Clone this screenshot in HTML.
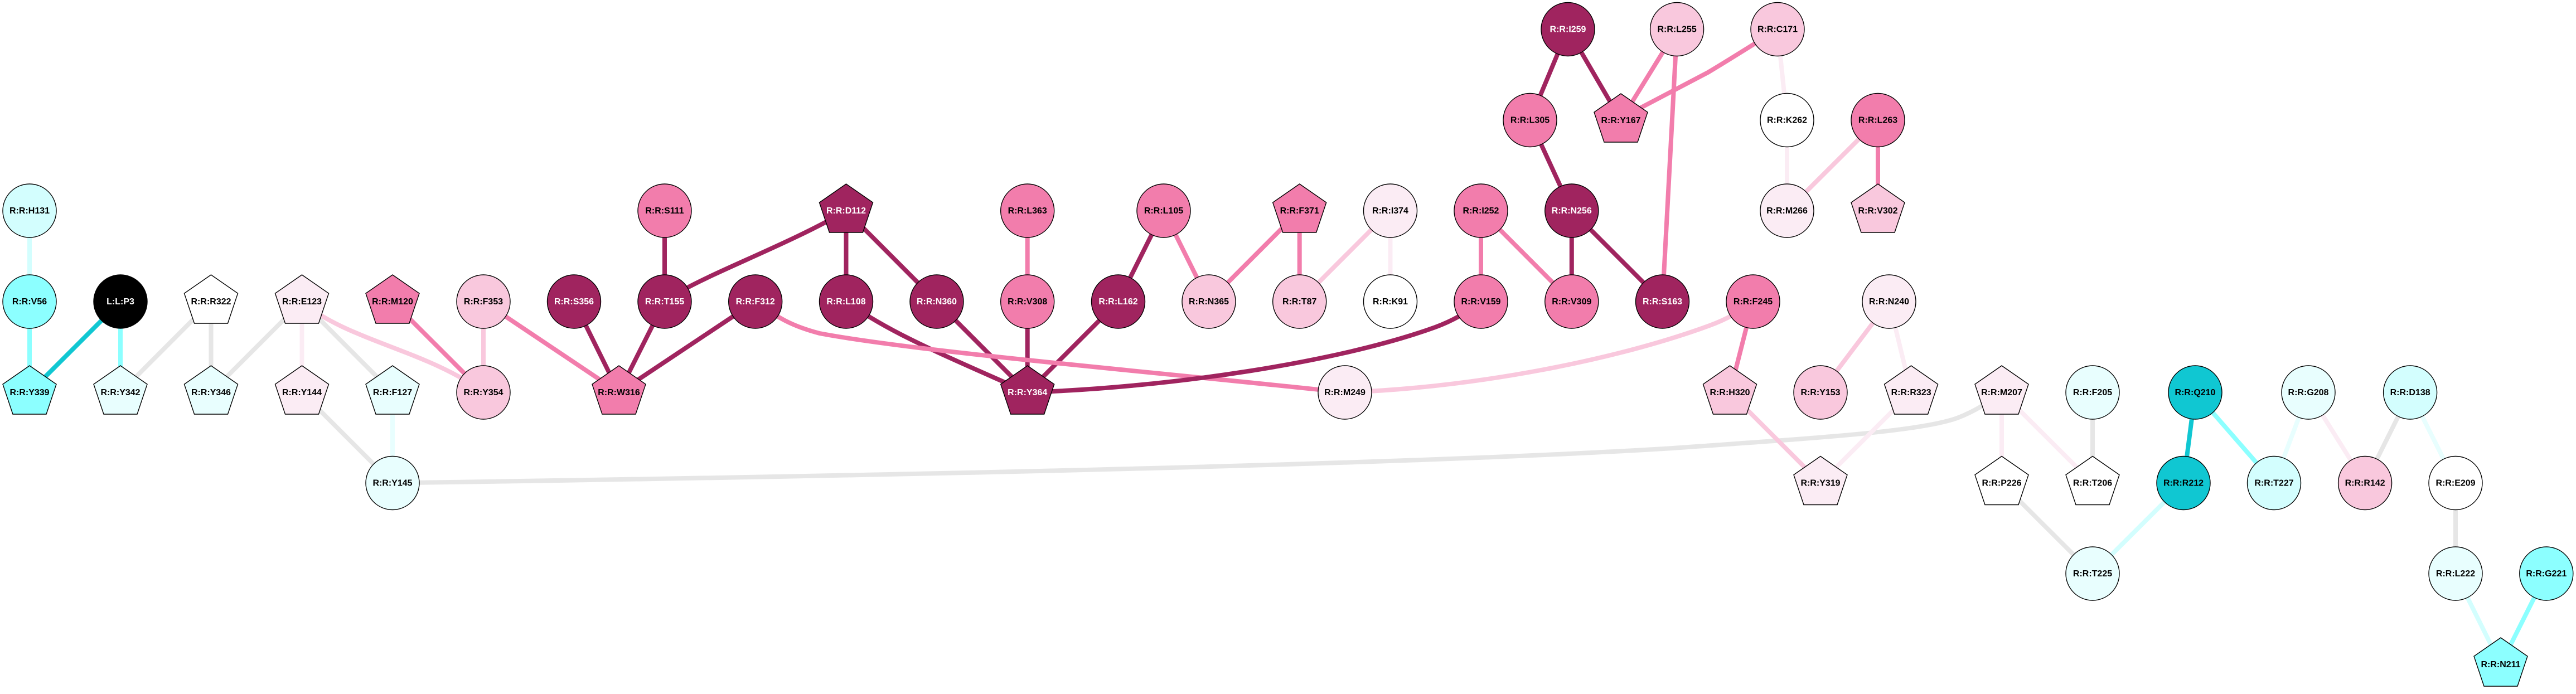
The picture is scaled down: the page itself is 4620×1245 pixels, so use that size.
<!DOCTYPE html>
<html>
<head>
<meta charset="utf-8">
<title>Residue network</title>
<style>
html,body{margin:0;padding:0;background:#fff}
svg{display:block}
.e path,.e line{fill:none;stroke-width:8}
.dk{stroke:#A0245F}.pk{stroke:#F27DAC}.lp{stroke:#F9C8DD}.vp{stroke:#FBECF4}
.gr{stroke:#E6E6E6}.c1{stroke:#E8FEFE}.c2{stroke:#D3FEFE}.c3{stroke:#8CFFFF}.c4{stroke:#10C7D2}
.n circle,.n polygon{stroke:#000;stroke-width:1.4}
.n text{font:bold 16px "Liberation Sans",sans-serif;text-anchor:middle;fill:#000}
.n .D circle,.n .D polygon{fill:#A0245F}.n .D text{fill:#fff}
.n .K circle,.n .K polygon{fill:#000}.n .K text{fill:#fff}
.n .P circle,.n .P polygon{fill:#F27DAC}
.n .L circle,.n .L polygon{fill:#F9C8DD}
.n .V circle,.n .V polygon{fill:#FBECF4}
.n .W circle,.n .W polygon{fill:#fff}
.n .G circle,.n .G polygon{fill:#E8FEFE}
.n .H circle,.n .H polygon{fill:#D3FEFE}
.n .I circle,.n .I polygon{fill:#8CFFFF}
.n .T circle,.n .T polygon{fill:#10C7D2}
</style>
</head>
<body>
<svg xmlns="http://www.w3.org/2000/svg" width="4620" height="1245" viewBox="0 0 4620 1245">
<rect width="4620" height="1245" fill="#fff"/>
<g class="e">
<line class="c2" x1="53" y1="378" x2="53" y2="541"/>
<line class="c3" x1="53" y1="541" x2="53" y2="704"/>
<line class="c4" x1="216" y1="541" x2="53" y2="704"/>
<line class="c3" x1="216" y1="541" x2="216" y2="704"/>
<line class="gr" x1="378.5" y1="541" x2="216" y2="704"/>
<line class="gr" x1="378.5" y1="541" x2="378.5" y2="704"/>
<line class="gr" x1="541.5" y1="541" x2="378.5" y2="704"/>
<line class="vp" x1="541.5" y1="541" x2="541.5" y2="704"/>
<line class="gr" x1="541.5" y1="541" x2="704" y2="704"/>
<line class="gr" x1="541.5" y1="704" x2="704" y2="866.5"/>
<line class="c1" x1="704" y1="704" x2="704" y2="866.5"/>
<path class="lp" d="M541.5,541 C620,610 770,630 867,704"/>
<line class="pk" x1="704" y1="541" x2="867" y2="704"/>
<line class="lp" x1="867" y1="541" x2="867" y2="704"/>
<line class="pk" x1="867" y1="541" x2="1110" y2="704"/>
<path class="gr" d="M704,866.5 C1500,855 2500,835 3000,804 C3250,786 3440,775 3510,750 Q3550,735 3590,704"/>
<line class="dk" x1="1029.5" y1="541" x2="1110" y2="704"/>
<line class="dk" x1="1192" y1="541" x2="1110" y2="704"/>
<line class="dk" x1="1354.7" y1="541" x2="1110" y2="704"/>
<line class="dk" x1="1192" y1="378" x2="1192" y2="541"/>
<path class="dk" d="M1517.5,378 C1430,430 1300,480 1233,516 L1192,541"/>
<line class="dk" x1="1517.5" y1="378" x2="1517.5" y2="541"/>
<line class="dk" x1="1517.5" y1="378" x2="1680" y2="541"/>
<path class="dk" d="M1517.5,541 C1600,600 1700,640 1842.7,704"/>
<line class="dk" x1="1680" y1="541" x2="1842.7" y2="704"/>
<line class="pk" x1="1842.7" y1="378" x2="1842.7" y2="541"/>
<line class="dk" x1="1842.7" y1="541" x2="1842.7" y2="704"/>
<line class="dk" x1="2005.5" y1="541" x2="1842.7" y2="704"/>
<line class="dk" x1="2087" y1="378" x2="2005.5" y2="541"/>
<line class="pk" x1="2087" y1="378" x2="2168" y2="541"/>
<line class="pk" x1="2330.7" y1="378" x2="2168" y2="541"/>
<line class="pk" x1="2330.7" y1="378" x2="2330.7" y2="541"/>
<line class="lp" x1="2493.5" y1="378" x2="2330.7" y2="541"/>
<line class="vp" x1="2493.5" y1="378" x2="2493.5" y2="541"/>
<line class="pk" x1="2656" y1="378" x2="2656" y2="541"/>
<line class="pk" x1="2656" y1="378" x2="2818.8" y2="541"/>
<line class="dk" x1="2818.8" y1="378" x2="2818.8" y2="541"/>
<line class="dk" x1="2818.8" y1="378" x2="2981.5" y2="541"/>
<line class="dk" x1="2744" y1="215.5" x2="2818.8" y2="378"/>
<line class="dk" x1="2812" y1="52.5" x2="2744" y2="215.5"/>
<line class="dk" x1="2812" y1="52.5" x2="2907" y2="215.5"/>
<line class="pk" x1="3007.6" y1="52.5" x2="2907" y2="215.5"/>
<line class="pk" x1="3007.6" y1="52.5" x2="2981.5" y2="541"/>
<path class="pk" d="M3188,52.5 Q3100,108 3063,130 L2907,212"/>
<line class="vp" x1="3188" y1="52.5" x2="3205" y2="215.5"/>
<line class="vp" x1="3205" y1="215.5" x2="3205" y2="378"/>
<line class="lp" x1="3368" y1="215.5" x2="3205" y2="378"/>
<line class="pk" x1="3368" y1="215.5" x2="3368" y2="378"/>
<path class="pk" d="M1354.7,541 C1395,570 1420,585 1470,598 C1650,632 2100,670 2412,704"/>
<path class="dk" d="M1842.7,704 C2100,695 2400,650 2574,587 Q2620,570 2656,541"/>
<path class="lp" d="M2412,704 C2650,695 2900,645 3066,584 Q3110,568 3144,541"/>
<line class="pk" x1="3144" y1="541" x2="3102.5" y2="704"/>
<line class="lp" x1="3102.5" y1="704" x2="3265" y2="866.5"/>
<line class="lp" x1="3388" y1="541" x2="3265" y2="704"/>
<line class="vp" x1="3388" y1="541" x2="3427.6" y2="704"/>
<line class="vp" x1="3427.6" y1="704" x2="3265" y2="866.5"/>
<line class="vp" x1="3590" y1="704" x2="3590" y2="866.5"/>
<line class="vp" x1="3590" y1="704" x2="3753" y2="866.5"/>
<line class="gr" x1="3753" y1="704" x2="3753" y2="866.5"/>
<line class="gr" x1="3590" y1="866.5" x2="3753" y2="1029"/>
<line class="c2" x1="3916" y1="866.5" x2="3753" y2="1029"/>
<line class="c4" x1="3937" y1="704" x2="3916" y2="866.5"/>
<line class="c3" x1="3937" y1="704" x2="4078.5" y2="866.5"/>
<line class="c1" x1="4140" y1="704" x2="4078.5" y2="866.5"/>
<line class="vp" x1="4140" y1="704" x2="4241.6" y2="866.5"/>
<line class="gr" x1="4322.6" y1="704" x2="4241.6" y2="866.5"/>
<line class="c1" x1="4322.6" y1="704" x2="4404" y2="866.5"/>
<line class="gr" x1="4404" y1="866.5" x2="4404" y2="1029"/>
<line class="c2" x1="4404" y1="1029" x2="4485" y2="1192"/>
<line class="c3" x1="4566.8" y1="1029" x2="4485" y2="1192"/>
</g>
<g class="n">
<g class="H" transform="translate(53,378)"><circle r="48"/><text y="4.8">R:R:H131</text></g>
<g class="I" transform="translate(53,541)"><circle r="48"/><text y="4.8">R:R:V56</text></g>
<g class="I" transform="translate(53,704)"><polygon points="0,-48 48,-14.7 30,39 -30,39 -48,-14.7"/><text y="4.8">R:R:Y339</text></g>
<g class="K" transform="translate(216,541)"><circle r="48"/><text y="4.8">L:L:P3</text></g>
<g class="G" transform="translate(216,704)"><polygon points="0,-48 48,-14.7 30,39 -30,39 -48,-14.7"/><text y="4.8">R:R:Y342</text></g>
<g class="W" transform="translate(378.5,541)"><polygon points="0,-48 48,-14.7 30,39 -30,39 -48,-14.7"/><text y="4.8">R:R:R322</text></g>
<g class="G" transform="translate(378.5,704)"><polygon points="0,-48 48,-14.7 30,39 -30,39 -48,-14.7"/><text y="4.8">R:R:Y346</text></g>
<g class="V" transform="translate(541.5,541)"><polygon points="0,-48 48,-14.7 30,39 -30,39 -48,-14.7"/><text y="4.8">R:R:E123</text></g>
<g class="V" transform="translate(541.5,704)"><polygon points="0,-48 48,-14.7 30,39 -30,39 -48,-14.7"/><text y="4.8">R:R:Y144</text></g>
<g class="P" transform="translate(704,541)"><polygon points="0,-48 48,-14.7 30,39 -30,39 -48,-14.7"/><text y="4.8">R:R:M120</text></g>
<g class="G" transform="translate(704,704)"><polygon points="0,-48 48,-14.7 30,39 -30,39 -48,-14.7"/><text y="4.8">R:R:F127</text></g>
<g class="G" transform="translate(704,866.5)"><circle r="48"/><text y="4.8">R:R:Y145</text></g>
<g class="L" transform="translate(867,541)"><circle r="48"/><text y="4.8">R:R:F353</text></g>
<g class="L" transform="translate(867,704)"><circle r="48"/><text y="4.8">R:R:Y354</text></g>
<g class="D" transform="translate(1029.5,541)"><circle r="48"/><text y="4.8">R:R:S356</text></g>
<g class="P" transform="translate(1110,704)"><polygon points="0,-48 48,-14.7 30,39 -30,39 -48,-14.7"/><text y="4.8">R:R:W316</text></g>
<g class="P" transform="translate(1192,378)"><circle r="48"/><text y="4.8">R:R:S111</text></g>
<g class="D" transform="translate(1192,541)"><circle r="48"/><text y="4.8">R:R:T155</text></g>
<g class="D" transform="translate(1354.7,541)"><circle r="48"/><text y="4.8">R:R:F312</text></g>
<g class="D" transform="translate(1517.5,378)"><polygon points="0,-48 48,-14.7 30,39 -30,39 -48,-14.7"/><text y="4.8">R:R:D112</text></g>
<g class="D" transform="translate(1517.5,541)"><circle r="48"/><text y="4.8">R:R:L108</text></g>
<g class="D" transform="translate(1680,541)"><circle r="48"/><text y="4.8">R:R:N360</text></g>
<g class="P" transform="translate(1842.7,378)"><circle r="48"/><text y="4.8">R:R:L363</text></g>
<g class="P" transform="translate(1842.7,541)"><circle r="48"/><text y="4.8">R:R:V308</text></g>
<g class="D" transform="translate(1842.7,704)"><polygon points="0,-48 48,-14.7 30,39 -30,39 -48,-14.7"/><text y="4.8">R:R:Y364</text></g>
<g class="D" transform="translate(2005.5,541)"><circle r="48"/><text y="4.8">R:R:L162</text></g>
<g class="P" transform="translate(2087,378)"><circle r="48"/><text y="4.8">R:R:L105</text></g>
<g class="L" transform="translate(2168,541)"><circle r="48"/><text y="4.8">R:R:N365</text></g>
<g class="P" transform="translate(2330.7,378)"><polygon points="0,-48 48,-14.7 30,39 -30,39 -48,-14.7"/><text y="4.8">R:R:F371</text></g>
<g class="L" transform="translate(2330.7,541)"><circle r="48"/><text y="4.8">R:R:T87</text></g>
<g class="V" transform="translate(2412,704)"><circle r="48"/><text y="4.8">R:R:M249</text></g>
<g class="V" transform="translate(2493.5,378)"><circle r="48"/><text y="4.8">R:R:I374</text></g>
<g class="W" transform="translate(2493.5,541)"><circle r="48"/><text y="4.8">R:R:K91</text></g>
<g class="P" transform="translate(2656,378)"><circle r="48"/><text y="4.8">R:R:I252</text></g>
<g class="P" transform="translate(2656,541)"><circle r="48"/><text y="4.8">R:R:V159</text></g>
<g class="P" transform="translate(2744,215.5)"><circle r="48"/><text y="4.8">R:R:L305</text></g>
<g class="D" transform="translate(2812,52.5)"><circle r="48"/><text y="4.8">R:R:I259</text></g>
<g class="D" transform="translate(2818.8,378)"><circle r="48"/><text y="4.8">R:R:N256</text></g>
<g class="P" transform="translate(2818.8,541)"><circle r="48"/><text y="4.8">R:R:V309</text></g>
<g class="P" transform="translate(2907,216)"><polygon points="0,-48 48,-14.7 30,39 -30,39 -48,-14.7"/><text y="4.8">R:R:Y167</text></g>
<g class="D" transform="translate(2981.5,541)"><circle r="48"/><text y="4.8">R:R:S163</text></g>
<g class="L" transform="translate(3007.6,52.5)"><circle r="48"/><text y="4.8">R:R:L255</text></g>
<g class="P" transform="translate(3144,541)"><circle r="48"/><text y="4.8">R:R:F245</text></g>
<g class="L" transform="translate(3102.5,704)"><polygon points="0,-48 48,-14.7 30,39 -30,39 -48,-14.7"/><text y="4.8">R:R:H320</text></g>
<g class="L" transform="translate(3188,52.5)"><circle r="48"/><text y="4.8">R:R:C171</text></g>
<g class="W" transform="translate(3205,215.5)"><circle r="48"/><text y="4.8">R:R:K262</text></g>
<g class="V" transform="translate(3205,378)"><circle r="48"/><text y="4.8">R:R:M266</text></g>
<g class="L" transform="translate(3265,704)"><circle r="48"/><text y="4.8">R:R:Y153</text></g>
<g class="V" transform="translate(3265,866.5)"><polygon points="0,-48 48,-14.7 30,39 -30,39 -48,-14.7"/><text y="4.8">R:R:Y319</text></g>
<g class="P" transform="translate(3368,215.5)"><circle r="48"/><text y="4.8">R:R:L263</text></g>
<g class="L" transform="translate(3368,378)"><polygon points="0,-48 48,-14.7 30,39 -30,39 -48,-14.7"/><text y="4.8">R:R:V302</text></g>
<g class="V" transform="translate(3388,541)"><circle r="48"/><text y="4.8">R:R:N240</text></g>
<g class="V" transform="translate(3427.6,704)"><polygon points="0,-48 48,-14.7 30,39 -30,39 -48,-14.7"/><text y="4.8">R:R:R323</text></g>
<g class="V" transform="translate(3590,704)"><polygon points="0,-48 48,-14.7 30,39 -30,39 -48,-14.7"/><text y="4.8">R:R:M207</text></g>
<g class="W" transform="translate(3590,866.5)"><polygon points="0,-48 48,-14.7 30,39 -30,39 -48,-14.7"/><text y="4.8">R:R:P226</text></g>
<g class="G" transform="translate(3753,704)"><circle r="48"/><text y="4.8">R:R:F205</text></g>
<g class="W" transform="translate(3753,866.5)"><polygon points="0,-48 48,-14.7 30,39 -30,39 -48,-14.7"/><text y="4.8">R:R:T206</text></g>
<g class="G" transform="translate(3753,1029)"><circle r="48"/><text y="4.8">R:R:T225</text></g>
<g class="T" transform="translate(3937,704)"><circle r="48"/><text y="4.8">R:R:Q210</text></g>
<g class="T" transform="translate(3916,866.5)"><circle r="48"/><text y="4.8">R:R:R212</text></g>
<g class="H" transform="translate(4078.5,866.5)"><circle r="48"/><text y="4.8">R:R:T227</text></g>
<g class="G" transform="translate(4140,704)"><circle r="48"/><text y="4.8">R:R:G208</text></g>
<g class="L" transform="translate(4241.6,866.5)"><circle r="48"/><text y="4.8">R:R:R142</text></g>
<g class="H" transform="translate(4322.6,704)"><circle r="48"/><text y="4.8">R:R:D138</text></g>
<g class="W" transform="translate(4404,866.5)"><circle r="48"/><text y="4.8">R:R:E209</text></g>
<g class="G" transform="translate(4404,1029)"><circle r="48"/><text y="4.8">R:R:L222</text></g>
<g class="I" transform="translate(4566.8,1029)"><circle r="48"/><text y="4.8">R:R:G221</text></g>
<g class="I" transform="translate(4485,1192)"><polygon points="0,-48 48,-14.7 30,39 -30,39 -48,-14.7"/><text y="4.8">R:R:N211</text></g>
</g>
</svg>
</body>
</html>
